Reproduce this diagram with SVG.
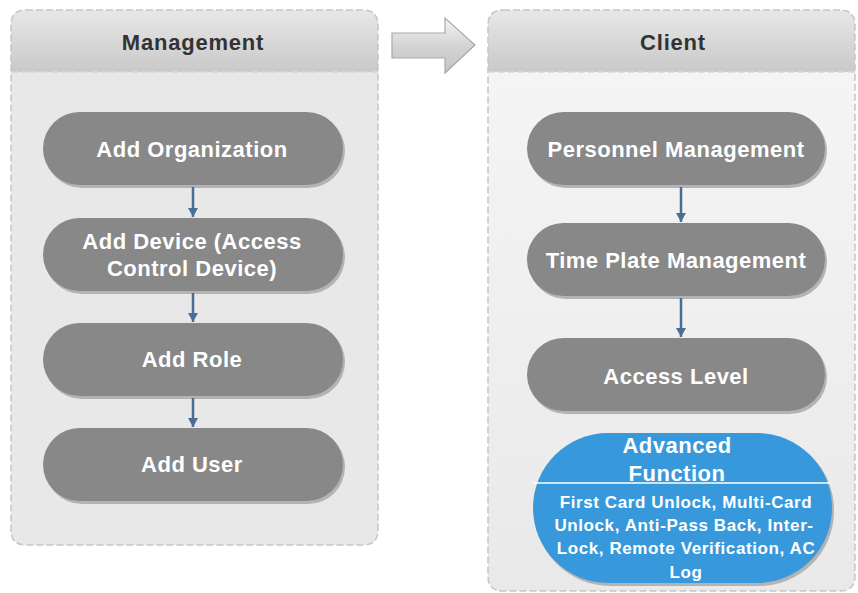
<svg xmlns="http://www.w3.org/2000/svg" width="858" height="593" viewBox="0 0 858 593">
<defs>
<linearGradient id="hdr" x1="0" y1="0" x2="0" y2="1">
<stop offset="0" stop-color="#e8e8e8"/>
<stop offset="1" stop-color="#c9c9c9"/>
</linearGradient>
<linearGradient id="bodyR" x1="0" y1="0" x2="0" y2="1">
<stop offset="0" stop-color="#f6f6f6"/>
<stop offset="1" stop-color="#e9e9e9"/>
</linearGradient>
<linearGradient id="bigArrow" x1="0" y1="0" x2="0" y2="1">
<stop offset="0" stop-color="#f4f4f4"/>
<stop offset="0.5" stop-color="#d4d4d4"/>
<stop offset="1" stop-color="#c4c4c4"/>
</linearGradient>
<marker id="ah" markerWidth="10" markerHeight="10" refX="9" refY="5" orient="auto" markerUnits="userSpaceOnUse" viewBox="0 0 10 10">
<path d="M0,0 L9,5 L0,10 Z" fill="#4a6d96"/>
</marker>
</defs>
<style>
.panelBody{stroke:#c6c6c6;stroke-width:1.5;stroke-dasharray:7 3}
.hdrText{font-family:"Liberation Sans",Arial,sans-serif;font-weight:bold;font-size:22px;letter-spacing:0.8px;fill:#333333;text-anchor:middle}
.node{fill:#888888}
.shadow{fill:#b3b3b3}
.nodeText{font-family:"Liberation Sans",Arial,sans-serif;font-weight:bold;font-size:22px;letter-spacing:0.5px;fill:#ffffff;text-anchor:middle}
.conn{stroke:#4a6d96;stroke-width:2.5;fill:none}
.advTitle{font-family:"Liberation Sans",Arial,sans-serif;font-weight:bold;font-size:22px;letter-spacing:0.5px;fill:#ffffff;text-anchor:middle}
.advBody{font-family:"Liberation Sans",Arial,sans-serif;font-weight:bold;font-size:17px;letter-spacing:0.6px;fill:#ffffff;text-anchor:middle}
</style>

<g id="panel-management">
<path d="M26,10 H363 Q378,10 378,25 V530 Q378,545 363,545 H26 Q11,545 11,530 V25 Q11,10 26,10 Z" fill="#e8e8e8"/>
<path d="M26,10 H363 Q378,10 378,25 V72 H11 V25 Q11,10 26,10 Z" fill="url(#hdr)"/>
<path d="M26,10 H363 Q378,10 378,25 V530 Q378,545 363,545 H26 Q11,545 11,530 V25 Q11,10 26,10 Z" fill="none" class="panelBody"/>
<line x1="11" y1="72" x2="378" y2="72" stroke="#d8d8d8" stroke-width="1.5" stroke-dasharray="7 3"/>
<text x="193" y="50" class="hdrText">Management</text>
</g>

<g id="panel-client">
<path d="M503,10 H840 Q855,10 855,25 V576 Q855,591 840,591 H503 Q488,591 488,576 V25 Q488,10 503,10 Z" fill="url(#bodyR)"/>
<path d="M503,10 H840 Q855,10 855,25 V72 H488 V25 Q488,10 503,10 Z" fill="url(#hdr)"/>
<path d="M503,10 H840 Q855,10 855,25 V576 Q855,591 840,591 H503 Q488,591 488,576 V25 Q488,10 503,10 Z" fill="none" class="panelBody"/>
<line x1="488" y1="72" x2="855" y2="72" stroke="#d8d8d8" stroke-width="1.5" stroke-dasharray="7 3"/>
<text x="673" y="50" class="hdrText">Client</text>
</g>

<g id="big-arrow">
<path d="M392,33 H445 V18 L475,45 L445,73 V58 H392 Z" fill="url(#bigArrow)" stroke="#a9a9a9" stroke-width="1.2"/>
</g>

<g id="node-add-organization">
<rect x="45" y="114" width="300" height="74" rx="37" class="shadow"/>
<rect x="43" y="112" width="300" height="73" rx="36.5" class="node"/>
<text x="192" y="157" class="nodeText">Add Organization</text>
</g>
<g id="node-add-device">
<rect x="45" y="220" width="300" height="74" rx="37" class="shadow"/>
<rect x="43" y="218" width="300" height="73" rx="36.5" class="node"/>
<text x="192" y="249" class="nodeText">Add Device (Access</text>
<text x="192" y="276" class="nodeText">Control Device)</text>
</g>
<g id="node-add-role">
<rect x="45" y="325" width="300" height="74" rx="37" class="shadow"/>
<rect x="43" y="323" width="300" height="73" rx="36.5" class="node"/>
<text x="192" y="367" class="nodeText">Add Role</text>
</g>
<g id="node-add-user">
<rect x="45" y="430" width="300" height="74" rx="37" class="shadow"/>
<rect x="43" y="428" width="300" height="73" rx="36.5" class="node"/>
<text x="192" y="472" class="nodeText">Add User</text>
</g>

<g id="node-personnel-management">
<rect x="529" y="114" width="298" height="74" rx="37" class="shadow"/>
<rect x="527" y="112" width="298" height="73" rx="36.5" class="node"/>
<text x="676" y="157" class="nodeText">Personnel Management</text>
</g>
<g id="node-time-plate-management">
<rect x="529" y="225" width="298" height="74" rx="37" class="shadow"/>
<rect x="527" y="223" width="298" height="73" rx="36.5" class="node"/>
<text x="676" y="268" class="nodeText">Time Plate Management</text>
</g>
<g id="node-access-level">
<rect x="529" y="340" width="298" height="74" rx="37" class="shadow"/>
<rect x="527" y="338" width="298" height="73" rx="36.5" class="node"/>
<text x="676" y="384" class="nodeText">Access Level</text>
</g>
<g id="node-advanced-function">
<rect x="535" y="435" width="299" height="151" rx="75" class="shadow"/>
<rect x="533" y="433" width="299" height="150" rx="75" fill="#3799dc"/>
<line x1="533" y1="483" x2="830" y2="483" stroke="#ffffff" stroke-width="1.5"/>
<text x="677" y="453" class="advTitle">Advanced</text>
<text x="677" y="481" class="advTitle">Function</text>
<text x="686" y="508" class="advBody">First Card Unlock, Multi-Card</text>
<text x="684" y="531" class="advBody">Unlock, Anti-Pass Back, Inter-</text>
<text x="686" y="554" class="advBody">Lock, Remote Verification, AC</text>
<text x="686" y="578" class="advBody">Log</text>
</g>

<g id="connectors">
<line x1="193" y1="187" x2="193" y2="217" class="conn" marker-end="url(#ah)"/>
<line x1="193" y1="293" x2="193" y2="322" class="conn" marker-end="url(#ah)"/>
<line x1="193" y1="398" x2="193" y2="427" class="conn" marker-end="url(#ah)"/>
<line x1="681" y1="187" x2="681" y2="222" class="conn" marker-end="url(#ah)"/>
<line x1="681" y1="298" x2="681" y2="337" class="conn" marker-end="url(#ah)"/>
</g>
</svg>
